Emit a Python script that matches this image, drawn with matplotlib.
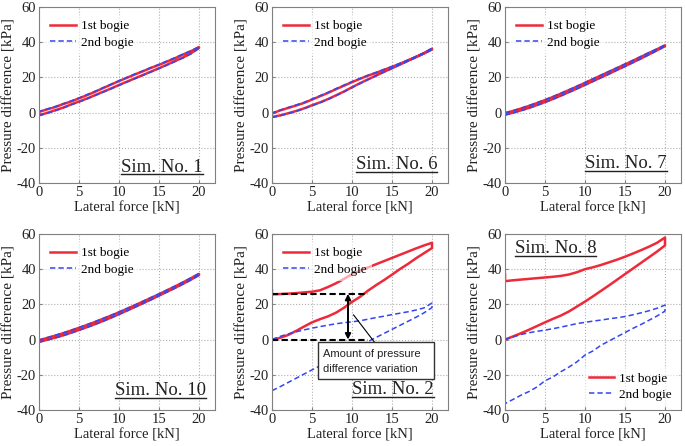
import matplotlib
matplotlib.use("Agg")
import matplotlib.pyplot as plt
from matplotlib.patches import Rectangle

plt.rcParams['font.family'] = ['Liberation Serif', 'DejaVu Serif']
plt.rcParams['axes.unicode_minus'] = False

# lateral force grid [kN], 1 kN steps, loading goes 0->20, unloading 20->0
force = list(range(21))

# Sim. No. 1
s1_b1_load = [-1.5, -0.2, 1.3, 2.8, 4.6, 6.3, 8.0, 9.9, 11.8, 13.7, 15.7, 17.6, 19.5, 21.4, 23.3, 25.2, 27.2, 29.3, 31.3, 33.7, 36.8]
s1_b1_unload = [0.4, 1.8, 3.1, 4.8, 6.3, 8.1, 9.9, 11.8, 13.9, 15.9, 17.9, 19.8, 21.7, 23.5, 25.4, 27.1, 29.0, 30.9, 33.0, 34.9, 37.2]
s1_b2_load = [-1.8, -0.4, 1.0, 2.6, 4.4, 6.0, 7.8, 9.7, 11.6, 13.5, 15.5, 17.4, 19.3, 21.2, 23.1, 25.0, 27.0, 29.0, 31.1, 33.4, 36.5]
s1_b2_unload = [0.6, 2.0, 3.4, 5.0, 6.6, 8.3, 10.2, 12.1, 14.1, 16.1, 18.1, 20.0, 21.9, 23.7, 25.6, 27.4, 29.3, 31.2, 33.2, 35.1, 37.4]

# Sim. No. 6
s6_b1_load = [-2.5, -1.6, -0.4, 0.9, 2.4, 4.2, 5.8, 7.7, 9.8, 12.0, 14.4, 16.7, 18.9, 21.0, 23.2, 25.2, 27.3, 29.4, 31.5, 33.6, 35.9]
s6_b1_unload = [-0.5, 1.2, 2.6, 4.0, 5.5, 7.4, 9.3, 11.2, 13.3, 15.3, 17.3, 19.2, 21.0, 22.6, 24.3, 26.0, 27.8, 29.7, 31.7, 33.8, 36.3]
s6_b2_load = [-2.8, -1.8, -0.6, 0.7, 2.2, 3.9, 5.6, 7.5, 9.6, 11.8, 14.2, 16.5, 18.7, 20.9, 23.0, 25.1, 27.2, 29.3, 31.4, 33.5, 35.7]
s6_b2_unload = [-0.2, 1.4, 2.9, 4.3, 5.8, 7.7, 9.6, 11.5, 13.6, 15.6, 17.6, 19.4, 21.2, 22.8, 24.5, 26.2, 28.0, 29.9, 31.9, 34.0, 36.6]

# Sim. No. 7
s7_b1_load = [-1.2, 0.0, 1.3, 2.7, 4.3, 6.0, 7.8, 9.7, 11.7, 13.7, 15.8, 17.9, 20.0, 22.1, 24.3, 26.4, 28.6, 30.8, 33.1, 35.4, 37.8]
s7_b1_unload = [-0.3, 0.9, 2.3, 3.8, 5.4, 7.1, 8.9, 10.8, 12.8, 14.8, 16.9, 19.0, 21.1, 23.2, 25.3, 27.4, 29.5, 31.7, 33.9, 36.0, 38.2]
s7_b2_load = [-1.4, -0.2, 1.1, 2.5, 4.1, 5.8, 7.6, 9.5, 11.5, 13.5, 15.6, 17.7, 19.8, 21.9, 24.1, 26.2, 28.4, 30.6, 32.9, 35.2, 37.6]
s7_b2_unload = [-0.1, 1.1, 2.5, 4.0, 5.6, 7.3, 9.1, 11.0, 13.0, 15.0, 17.1, 19.2, 21.3, 23.4, 25.5, 27.6, 29.7, 31.9, 34.1, 36.2, 38.4]

# Sim. No. 10
s10_b1_load = [-1.3, -0.1, 1.1, 2.4, 3.9, 5.5, 7.1, 8.8, 10.6, 12.5, 14.5, 16.5, 18.6, 20.7, 22.8, 25.0, 27.2, 29.4, 31.7, 34.1, 36.7]
s10_b1_unload = [-0.4, 0.9, 2.2, 3.6, 5.1, 6.7, 8.3, 10.0, 11.8, 13.6, 15.5, 17.5, 19.5, 21.6, 23.7, 25.8, 28.0, 30.2, 32.5, 34.9, 37.3]
s10_b2_load = [-1.5, -0.3, 0.9, 2.2, 3.7, 5.3, 6.9, 8.6, 10.4, 12.3, 14.3, 16.3, 18.4, 20.5, 22.6, 24.8, 27.0, 29.2, 31.5, 33.9, 36.5]
s10_b2_unload = [-0.2, 1.1, 2.4, 3.8, 5.3, 6.9, 8.5, 10.2, 12.0, 13.8, 15.7, 17.7, 19.7, 21.8, 23.9, 26.0, 28.2, 30.4, 32.7, 35.1, 37.6]

# Sim. No. 2
s2_b1_load = [0.0, 1.0, 2.6, 4.9, 7.4, 9.8, 11.6, 13.2, 15.3, 18.1, 21.4, 24.3, 27.8, 30.9, 33.8, 36.9, 40.1, 43.0, 46.2, 49.1, 52.0]
s2_b1_unload = [25.7, 25.9, 26.1, 26.4, 26.8, 27.2, 28.0, 29.9, 32.0, 34.5, 37.2, 39.2, 41.0, 42.8, 44.6, 46.4, 48.2, 50.0, 51.8, 53.5, 55.0]
s2_b1_end = 28.0
s2_b2_load = [0.0, 1.8, 3.2, 4.4, 5.5, 6.5, 7.4, 8.2, 9.0, 9.6, 10.1, 10.7, 11.6, 12.5, 13.3, 14.2, 15.0, 15.8, 16.8, 18.0, 20.8]
s2_b2_unload = [-29.0, -26.8, -24.4, -22.0, -19.6, -17.2, -14.9, -12.6, -10.3, -8.0, -5.7, -3.4, -1.1, 1.2, 3.5, 5.8, 8.1, 10.4, 12.7, 15.2, 18.2]

# Sim. No. 8
s8_b1_load = [0.0, 1.8, 3.6, 5.6, 7.7, 9.8, 11.8, 13.7, 16.0, 18.8, 21.6, 24.6, 27.7, 30.8, 34.0, 37.2, 40.4, 43.6, 46.8, 50.0, 53.5]
s8_b1_unload = [33.2, 33.7, 34.1, 34.5, 34.9, 35.3, 35.7, 36.2, 37.0, 38.3, 40.0, 41.1, 42.4, 43.9, 45.4, 47.1, 48.9, 50.8, 52.8, 55.0, 58.0]
s8_b1_end = 37.0
s8_b2_load = [0.0, 1.5, 2.9, 3.9, 4.7, 5.4, 6.2, 7.1, 8.1, 9.1, 9.8, 10.5, 11.1, 11.8, 12.4, 13.1, 14.1, 15.2, 16.4, 17.8, 19.6]
s8_b2_unload = [-36.4, -34.0, -31.6, -29.5, -26.9, -23.4, -21.2, -18.2, -15.6, -12.6, -8.8, -6.4, -3.2, -0.8, 1.6, 4.0, 6.4, 8.6, 11.0, 13.4, 16.2]

# (title, b1 load, b1 unload, b1 end, b2 load, b2 unload, label pos, legend loc)
panels = [
    ("Sim. No. 1", s1_b1_load, s1_b1_unload, None, s1_b2_load, s1_b2_unload, (0.93, 0.065, 'right'), 'upper left'),
    ("Sim. No. 6", s6_b1_load, s6_b1_unload, None, s6_b2_load, s6_b2_unload, (0.94, 0.08, 'right'), 'upper left'),
    ("Sim. No. 7", s7_b1_load, s7_b1_unload, None, s7_b2_load, s7_b2_unload, (0.92, 0.085, 'right'), 'upper left'),
    ("Sim. No. 10", s10_b1_load, s10_b1_unload, None, s10_b2_load, s10_b2_unload, (0.95, 0.085, 'right'), 'upper left'),
    ("Sim. No. 2", s2_b1_load, s2_b1_unload, s2_b1_end, s2_b2_load, s2_b2_unload, (0.92, 0.09, 'right'), 'upper left'),
    ("Sim. No. 8", s8_b1_load, s8_b1_unload, s8_b1_end, s8_b2_load, s8_b2_unload, (0.056, 0.892, 'left'), 'lower right'),
]

RED = '#ee2a3a'
BLUE = '#3446ee'
W, H = 685, 446
lefts = [39, 272, 505]
tops = [7, 234]
aw, ah = 176, 176

fig = plt.figure(figsize=(W / 100, H / 100), dpi=100)
axes = []
labels = []
for i, (title, b1l, b1u, b1e, b2l, b2u, lpos, legloc) in enumerate(panels):
    r, c = divmod(i, 3)
    ax = fig.add_axes([lefts[c] / W, 1 - (tops[r] + ah) / H, aw / W, ah / H])
    x1 = force + force[::-1]
    y1 = b1l + b1u[::-1]
    if b1e is not None:
        x1 = x1 + [0]
        y1 = y1 + [b1e]
    x2 = force + force[::-1]
    y2 = b2l + b2u[::-1]
    ax.plot(x1, y1, color=RED, lw=1.8, label='1st bogie')
    ax.plot(x2, y2, color=BLUE, lw=1.1, dashes=(3.5, 2), label='2nd bogie')

    ax.set_xlim(0, 22)
    ax.set_ylim(-40, 60)
    ax.set_xticks([0, 5, 10, 15, 20])
    ax.set_yticks([-40, -20, 0, 20, 40, 60])
    ax.grid(True, linestyle=':', color='#b0b0b0', lw=0.8)
    for s in ax.spines.values():
        s.set_color('#808080')
        s.set_linewidth(0.8)
    ax.tick_params(direction='in', length=2.5, color='#808080', labelsize=10.5,
                   labelcolor='#222222', pad=2)
    ax.set_xlabel("Lateral force [kN]", fontsize=10.5, color='#222222', labelpad=2)
    ax.set_ylabel("Pressure difference [kPa]", fontsize=11, color='#222222', labelpad=1)

    if legloc == 'upper left':
        leg = ax.legend(loc='upper left', bbox_to_anchor=(0.02, 0.97), fontsize=9.5,
                        handlelength=1.9, handletextpad=0.4, labelspacing=0.3,
                        borderaxespad=0.2, frameon=True, fancybox=False,
                        framealpha=0.6, edgecolor='none')
    else:
        leg = ax.legend(loc='lower right', fontsize=9.5, handlelength=1.9,
                        handletextpad=0.4, labelspacing=0.3, borderaxespad=0.3,
                        frameon=True, fancybox=False, framealpha=0.6, edgecolor='none')
    leg.get_frame().set_linewidth(0)

    t = ax.text(lpos[0], lpos[1], title, transform=ax.transAxes, fontsize=13.5,
                ha=lpos[2], va='baseline', color='#222222')
    axes.append(ax)
    labels.append(t)

# annotation in Sim. No. 2
ax2 = axes[4]
ax2.plot([0, 12], [26, 26], color='k', lw=1.5, dashes=(3, 1.6))
ax2.plot([0, 12], [0, 0], color='k', lw=1.5, dashes=(3, 1.6))
ax2.annotate('', xy=(9.5, 26), xytext=(9.5, 0),
             arrowprops=dict(arrowstyle='<|-|>', color='k', lw=1.4,
                             shrinkA=0, shrinkB=0, mutation_scale=8))
ax2.plot([12.8, 10.2], [-1.4, 14], color='k', lw=0.8)
ax2.add_patch(Rectangle((5.8, -22.4), 14.5, 21.0, facecolor='white',
                        edgecolor='#333333', lw=1.0, zorder=5))
ax2.text(6.4, -8.2, "Amount of pressure", fontsize=8, family=['Liberation Sans', 'DejaVu Sans'],
         va='center', ha='left', zorder=6, color='#222222')
ax2.text(6.4, -16.7, "difference variation", fontsize=8, family=['Liberation Sans', 'DejaVu Sans'],
         va='center', ha='left', zorder=6, color='#222222')

# underline the Sim. No. labels
fig.canvas.draw()
renderer = fig.canvas.get_renderer()
for ax, t in zip(axes, labels):
    bb = t.get_window_extent(renderer).transformed(ax.transAxes.inverted())
    y0 = t.get_position()[1] - 0.016
    ax.plot([bb.x0, bb.x1], [y0, y0], transform=ax.transAxes, color='#222222',
            lw=1.0, clip_on=False)

fig.savefig("out.png", dpi=100)
